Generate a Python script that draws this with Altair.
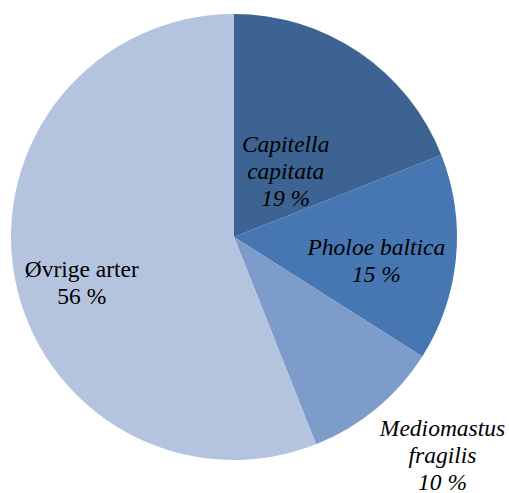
import altair as alt
import pandas as pd
import math

categories = ["Capitella capitata", "Pholoe baltica", "Mediomastus fragilis", "Øvrige arter"]
label_lines = ["Capitella\ncapitata", "Pholoe baltica", "Mediomastus\nfragilis", "Øvrige arter"]
values = [19, 15, 10, 56]
colors = ["#3C6391", "#4677B2", "#7E9CCA", "#B4C3DE"]
italic = [True, True, True, False]

# label layout (radius from centre, pixel nudges)
label_layout = {
    "Capitella capitata": (83, 5, -23),
    "Pholoe baltica": (144, -1, -2.5),
    "Mediomastus fragilis": (302, 16, -41),
    "Øvrige arter": (158, 3, 3.5),
}

total = sum(values)
df = pd.DataFrame({
    "cat": categories,
    "val": values,
    "order": list(range(len(categories))),
    "label": [f"{l}\n{v} %" for l, v in zip(label_lines, values)],
})

theta_scale = alt.Scale(domain=[0, total], range=[0, 2 * math.pi])

pie = alt.Chart(df).mark_arc(outerRadius=223).encode(
    theta=alt.Theta("val:Q", stack=True, scale=theta_scale),
    order=alt.Order("order:Q"),
    color=alt.Color("cat:N", scale=alt.Scale(domain=categories, range=colors), legend=None),
)

layers = [pie]
for cat, it in zip(categories, italic):
    r, dx, dy = label_layout[cat]
    t = alt.Chart(df).transform_stack(
        stack="val", groupby=[], as_=["s0", "s1"], sort=[alt.SortField("order", order="ascending")]
    ).transform_calculate(
        mid="(datum.s0 + datum.s1) / 2"
    ).transform_filter(
        alt.datum.cat == cat
    ).mark_text(
        radius=r, dx=dx, dy=dy, font="Liberation Serif", fontSize=23.5,
        fontStyle="italic" if it else "normal", lineBreak="\n", lineHeight=27,
        align="center", baseline="middle", color="black",
    ).encode(
        theta=alt.Theta("mid:Q", stack=None, scale=theta_scale),
        text="label:N",
    )
    layers.append(t)

chart = alt.layer(*layers).properties(
    width=468, height=474,
    padding={"left": 0, "top": 0, "right": 41, "bottom": 19},
    autosize=alt.AutoSizeParams(type="none"),
    background="white",
).configure_view(strokeWidth=0)

chart.save("out.html", embed_options={"renderer": "svg", "actions": False})
